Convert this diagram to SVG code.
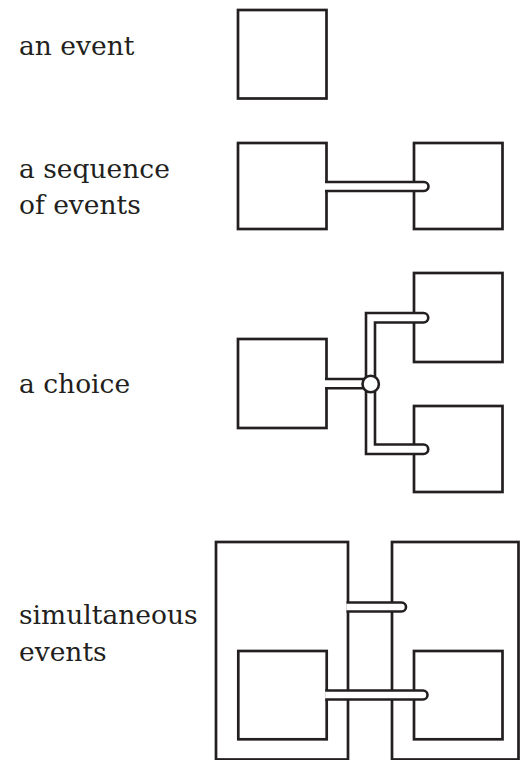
<svg xmlns="http://www.w3.org/2000/svg" width="520" height="760" viewBox="0 0 520 760">
  <style>
    .lbl { font-family: "DejaVu Serif", "Liberation Serif", serif; font-size: 26.5px; fill: #231f20; }
    .box { fill: #ffffff; stroke: #231f20; stroke-width: 2.7; }
    .tube { fill: #ffffff; stroke: #231f20; stroke-width: 2.6; stroke-linejoin: miter; }
    .dot { fill: #ffffff; stroke: #231f20; stroke-width: 2.6; }
  </style>
  <rect x="0" y="0" width="520" height="760" fill="#ffffff"/>

  <g id="labels">
    <text class="lbl" x="19" y="55">an event</text>
    <text class="lbl" x="19" y="178">a sequence</text>
    <text class="lbl" x="19" y="214">of events</text>
    <text class="lbl" x="19" y="393">a choice</text>
    <text class="lbl" x="19" y="624">simultaneous</text>
    <text class="lbl" x="19" y="661">events</text>
  </g>

  <!-- an event -->
  <g id="event">
    <rect class="box" x="238" y="10" width="88.5" height="88.5"/>
  </g>

  <!-- sequence -->
  <g id="seq-a">
    <rect class="box" x="238" y="143" width="88.5" height="86"/>
  </g>
  <g id="seq-b">
    <rect class="box" x="414" y="143" width="88.5" height="86"/>
  </g>

  <!-- choice -->
  <g id="choice-a">
    <rect class="box" x="238" y="339" width="88.5" height="89"/>
  </g>
  <g id="choice-b">
    <rect class="box" x="414" y="273" width="88.5" height="89"/>
  </g>
  <g id="choice-c">
    <rect class="box" x="414" y="406" width="88.5" height="86"/>
  </g>

  <!-- simultaneous -->
  <g id="sim-outer-a">
    <rect class="box" x="216" y="542" width="132" height="217.5"/>
  </g>
  <g id="sim-outer-b">
    <rect class="box" x="392" y="542" width="126.5" height="217.5"/>
  </g>
  <g id="sim-a">
    <rect class="box" x="238.3" y="651" width="88.4" height="88.3"/>
  </g>
  <g id="sim-b">
    <rect class="box" x="414" y="651" width="88.5" height="88.3"/>
  </g>

  <g id="connectors">
    <path class="tube" d="M325,182 H424 A4.5,4.5 0 0 1 424,191 H325"/>
    <path class="tube" d="M325,379 H370.5 V388.3 H325"/>
    <path class="tube" d="M366,384 V313 H423.5 A4.75,4.75 0 0 1 423.5,322.5 H375 V384"/>
    <path class="tube" d="M375,384 V444.5 H423.5 A4.75,4.75 0 0 1 423.5,454 H366 V384"/>
    <circle class="dot" cx="370.7" cy="384" r="8.2"/>
    <path class="tube" d="M346.5,602.5 H401.5 A4.5,4.5 0 0 1 401.5,611.5 H346.5"/>
    <path class="tube" d="M325.2,690.5 H423 A4.5,4.5 0 0 1 423,699.5 H325.2"/>
  </g>
</svg>
